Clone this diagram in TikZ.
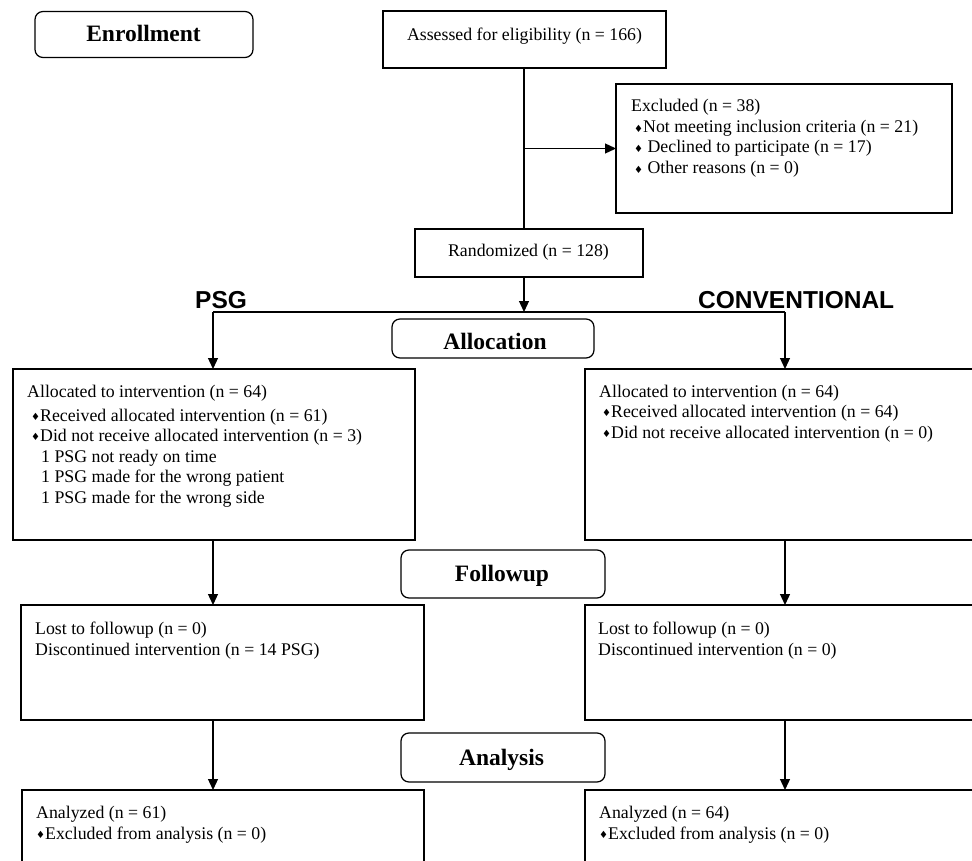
\documentclass[tikz,border=0pt]{standalone}
\usepackage{fontspec}
\setmainfont{Liberation Serif}
\newfontfamily\hsans{Liberation Sans}
\newfontfamily\dvsans{DejaVu Sans}
\usetikzlibrary{arrows.meta}
\newcommand{\dmd}{{\dvsans\fontsize{10}{10}\selectfont\raisebox{0.5pt}{♦}}}
\begin{document}
\begin{tikzpicture}[x=1pt,y=-1pt,
  box/.style={draw, line width=1.25pt, inner sep=0pt, outer sep=0pt},
  rbox/.style={box, rounded corners=8pt},
  txt/.style={inner sep=0pt, anchor=base west, font=\fontsize{17.8}{20}\selectfont},
  ctxt/.style={txt, anchor=base},
  head/.style={inner sep=0pt, anchor=base, font=\fontsize{23.5}{26}\selectfont\bfseries},
  grp/.style={inner sep=0pt, anchor=base west, font=\hsans\fontsize{24.5}{26}\selectfont\bfseries},
  arr/.style={line width=1.25pt, -{Triangle[length=11pt,width=10pt]}},
  ln/.style={line width=1.25pt}]
\useasboundingbox (0,0) rectangle (972,861);
\clip (0,0) rectangle (972,861);

% heading boxes
\node[rbox, minimum width=218pt, minimum height=46pt] (enroll) at (144,34.5) {};
\node[head] (enrollt) at (143.5,42) {Enrollment};
\node[rbox, minimum width=202pt, minimum height=39pt] (alloc) at (493,338.5) {};
\node[head] (alloct) at (495,349) {Allocation};
\node[rbox, minimum width=204pt, minimum height=48pt] (follow) at (503,574) {};
\node[head] (followt) at (502,581) {Followup};
\node[rbox, minimum width=204pt, minimum height=49pt] (anal) at (503,757.5) {};
\node[head] (analt) at (501.5,765) {Analysis};

% group labels
\node[grp] (psg) at (195,308) {PSG};
\node[grp] (conv) at (698,308) {CONVENTIONAL};

% enrollment
\node[box, minimum width=283pt, minimum height=57pt] (assess) at (524.5,39.5) {};
\node[ctxt] (assesst) at (524.5,41) {Assessed for eligibility (n = 166)};
\node[box, minimum width=336pt, minimum height=129pt] (excl) at (784,148.5) {};
\node[txt] (ex1) at (631,112) {Excluded (n = 38)};
\node[txt] (ex2) at (634,133) {\dmd Not meeting inclusion criteria (n = 21)};
\node[txt] (ex3) at (634,153) {\dmd\ Declined to participate (n = 17)};
\node[txt] (ex4) at (634,174) {\dmd\ Other reasons (n = 0)};
\node[box, minimum width=228pt, minimum height=48pt] (rand) at (529,253) {};
\node[ctxt] (randt) at (528.5,257) {Randomized (n = 128)};

% allocation
\node[box, minimum width=402pt, minimum height=171pt] (allocL) at (214,454.5) {};
\node[txt] (aL1) at (27,397) {Allocated to intervention (n = 64)};
\node[txt] (aL2) at (31,421) {\dmd Received allocated intervention (n = 61)};
\node[txt] (aL3) at (31,441) {\dmd Did not receive allocated intervention (n = 3)};
\node[txt] (aL4) at (41,462) {1 PSG not ready on time};
\node[txt] (aL5) at (41,482) {1 PSG made for the wrong patient};
\node[txt] (aL6) at (41,503) {1 PSG made for the wrong side};
\node[box, minimum width=415pt, minimum height=171pt] (allocR) at (792.5,454.5) {};
\node[txt] (aR1) at (599,397) {Allocated to intervention (n = 64)};
\node[txt] (aR2) at (602,417) {\dmd Received allocated intervention (n = 64)};
\node[txt] (aR3) at (602,438) {\dmd Did not receive allocated intervention (n = 0)};

% followup
\node[box, minimum width=403pt, minimum height=115pt] (fupL) at (222.5,662.5) {};
\node[txt] (fL1) at (35,634) {Lost to followup (n = 0)};
\node[txt] (fL2) at (35,655) {Discontinued intervention (n = 14 PSG)};
\node[box, minimum width=415pt, minimum height=115pt] (fupR) at (792.5,662.5) {};
\node[txt] (fR1) at (598,634) {Lost to followup (n = 0)};
\node[txt] (fR2) at (598,655) {Discontinued intervention (n = 0)};

% analysis
\node[box, minimum width=402pt, minimum height=110pt] (anL) at (223,845) {};
\node[txt] (nL1) at (36,818) {Analyzed (n = 61)};
\node[txt] (nL2) at (36,839) {\dmd Excluded from analysis (n = 0)};
\node[box, minimum width=415pt, minimum height=110pt] (anR) at (792.5,845) {};
\node[txt] (nR1) at (599,818) {Analyzed (n = 64)};
\node[txt] (nR2) at (599,839) {\dmd Excluded from analysis (n = 0)};

% connectors
\coordinate (jL) at (213,312);
\coordinate (jR) at (785,312);
\coordinate (jM) at (524,312);
\draw[ln] (assess.south -| jM) -- (rand.north -| jM);
\draw[arr] (excl.west -| jM) -- (excl.west);
\draw[arr] (rand.south -| jM) -- (jM);
\draw[ln] (jL) -- (jR);
\draw[arr] (jL) -- (jL |- allocL.north);
\draw[arr] (jR) -- (jR |- allocR.north);
\draw[arr] (allocL.south -| jL) -- (fupL.north -| jL);
\draw[arr] (allocR.south -| jR) -- (fupR.north -| jR);
\draw[arr] (fupL.south -| jL) -- (anL.north -| jL);
\draw[arr] (fupR.south -| jR) -- (anR.north -| jR);
\end{tikzpicture}
\end{document}
